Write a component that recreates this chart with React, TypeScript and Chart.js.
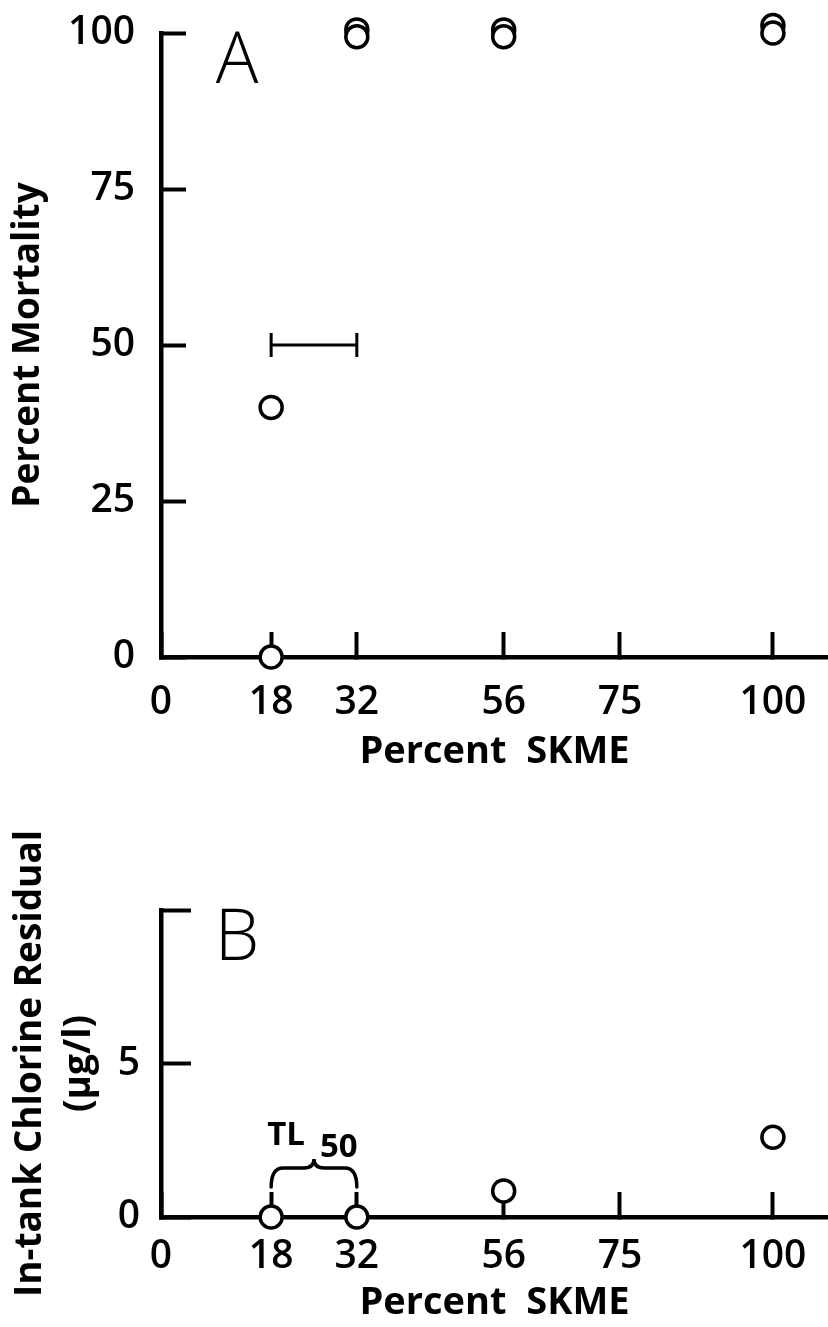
import React, { useEffect, useRef } from 'react';
import { Chart, registerables } from 'chart.js';

Chart.register(...registerables);

// ---------- data ----------
const xTickValues = [0, 18, 32, 56, 75, 100];
const mortalityTickValues = [0, 25, 50, 75, 100];
const chlorineTickValues = [0, 5, 10];

const mortalityX = [18, 32, 56, 100];
const mortalityFront = [0, 99.4, 99.4, 100];
const mortalityBack = [40, 100.5, 100.5, 101.2];
const tl50Range = [18, 32];
const tl50Level = 50;

const chlorineX = [18, 32, 56, 100];
const chlorineY = [0, 0, 0.85, 2.6];

// ---------- style ----------
const FONT = '"Open Sans", "Liberation Sans", Arial, sans-serif';
const W = 828;
const H_A = 820;
const H_B = 507;
const AXIS_X = 161;

const decorPlugin = {
  id: 'decor',
  afterDraw(chart: any, _args: any, opts: any) {
    const { ctx, chartArea } = chart;
    const xs = chart.scales.x;
    ctx.save();
    ctx.fillStyle = '#000';
    ctx.strokeStyle = '#000';
    ctx.font = `300 71px ${FONT}`;
    ctx.textAlign = 'center';
    ctx.textBaseline = 'alphabetic';
    ctx.fillText(opts.letter, chartArea.left + 76, chartArea.top + 50);
    if (opts.brace) {
      const x1 = xs.getPixelForValue(opts.brace[0]);
      const x2 = xs.getPixelForValue(opts.brace[1]);
      const xm = (x1 + x2) / 2;
      const b = chartArea.bottom;
      const yEnd = b - 30;
      const yFlat = b - 49;
      const yPeak = b - 58;
      ctx.lineWidth = 3.5;
      ctx.lineCap = 'round';
      ctx.beginPath();
      ctx.moveTo(x1, yEnd);
      ctx.quadraticCurveTo(x1, yFlat, x1 + 12, yFlat);
      ctx.lineTo(xm - 10, yFlat);
      ctx.quadraticCurveTo(xm, yFlat, xm, yPeak);
      ctx.quadraticCurveTo(xm, yFlat, xm + 10, yFlat);
      ctx.lineTo(x2 - 12, yFlat);
      ctx.quadraticCurveTo(x2, yFlat, x2, yEnd);
      ctx.stroke();
      ctx.font = `bold 33px ${FONT}`;
      ctx.textAlign = 'left';
      ctx.fillText('TL', x1 - 4, b - 72);
      ctx.fillText('50', xm + 6, b - 60);
    }
    ctx.restore();
  },
};

const zeroPadding = (s: any) => {
  s.paddingTop = 0;
  s.paddingBottom = 0;
  s.paddingLeft = 0;
  s.paddingRight = 0;
};

function makeScales(opts: {
  height: number;
  bottomY: number;
  yMax: number;
  yTicks: number[];
  yTickLen: number;
  yLabelPad: number;
  yTitle: string | string[];
  yTitleLineHeight: number;
  yTitlePadTop: number;
  xLabelPad: number;
  xTitlePadBottom: number;
  hideTop?: boolean;
}) {
  return {
    x: {
      type: 'linear',
      min: 0,
      max: 109,
      afterBuildTicks: (s: any) => {
        s.ticks = xTickValues.map((v) => ({ value: v }));
      },
      afterFit: (s: any) => {
        s.height = opts.height - opts.bottomY;
        zeroPadding(s);
      },
      border: { display: true, color: '#000', width: 4.5 },
      grid: {
        display: true,
        drawOnChartArea: false,
        drawTicks: true,
        tickLength: -25,
        tickWidth: 4,
        tickColor: '#000',
        color: '#000',
      },
      ticks: {
        autoSkip: false,
        maxRotation: 0,
        color: '#000',
        padding: opts.xLabelPad,
        font: { family: FONT, size: 39, weight: '600' },
      },
      title: {
        display: true,
        text: 'Percent  SKME',
        color: '#000',
        font: { family: FONT, size: 38, weight: 'bold' },
        padding: { top: 0, bottom: opts.xTitlePadBottom },
      },
    },
    y: {
      type: 'linear',
      min: 0,
      max: opts.yMax,
      afterBuildTicks: (s: any) => {
        s.ticks = opts.yTicks.map((v) => ({ value: v }));
      },
      afterFit: (s: any) => {
        s.width = AXIS_X;
        zeroPadding(s);
      },
      border: { display: true, color: '#000', width: 4.5 },
      grid: {
        display: true,
        drawOnChartArea: false,
        drawTicks: true,
        tickLength: -opts.yTickLen,
        tickWidth: 4,
        tickColor: '#000',
        color: '#000',
      },
      ticks: {
        autoSkip: false,
        color: '#000',
        padding: opts.yLabelPad,
        font: { family: FONT, size: 39, weight: '600' },
        callback: (v: any) => (opts.hideTop && v === opts.yMax ? '' : String(v)),
      },
      title: {
        display: true,
        text: opts.yTitle,
        color: '#000',
        font: { family: FONT, size: 37, weight: 'bold', lineHeight: opts.yTitleLineHeight },
        padding: { top: opts.yTitlePadTop, bottom: 0 },
      },
    },
  };
}

const circle = {
  type: 'scatter',
  pointStyle: 'circle',
  pointRadius: 11,
  pointBorderWidth: 3.5,
  pointBorderColor: '#000',
  pointBackgroundColor: '#fff',
  pointHoverRadius: 11,
  showLine: false,
  clip: false,
};

function PanelA() {
  const ref = useRef<HTMLCanvasElement>(null);
  useEffect(() => {
    if (!ref.current) return;
    const chart = new Chart(ref.current, {
      type: 'scatter',
      data: {
        datasets: [
          {
            ...circle,
            label: 'replicate 1',
            data: mortalityX.map((x, i) => ({ x, y: mortalityFront[i] })),
          },
          {
            ...circle,
            label: 'replicate 2',
            data: mortalityX.map((x, i) => ({ x, y: mortalityBack[i] })),
          },
          {
            type: 'line',
            label: 'TL50 range',
            data: tl50Range.map((x) => ({ x, y: tl50Level })),
            borderColor: '#000',
            borderWidth: 3,
            pointStyle: 'line',
            rotation: 90,
            pointRadius: 12,
            pointBorderWidth: 3,
            pointBorderColor: '#000',
            clip: false,
          },
        ],
      } as any,
      options: {
        responsive: false,
        animation: false,
        layout: { autoPadding: false, padding: { top: 33, left: 0, right: 0, bottom: 0 } },
        plugins: {
          legend: { display: false },
          tooltip: { enabled: false },
          decor: { letter: 'A' },
        } as any,
        scales: makeScales({
          height: H_A,
          bottomY: 657,
          yMax: 100,
          yTicks: mortalityTickValues,
          yTickLen: 25,
          yLabelPad: 51,
          yTitle: 'Percent Mortality',
          yTitleLineHeight: 1.2,
          yTitlePadTop: 6,
          xLabelPad: 47.6,
          xTitlePadBottom: 45.2,
        }) as any,
      },
      plugins: [decorPlugin],
    });
    return () => chart.destroy();
  }, []);
  return (
    <canvas
      ref={ref}
      width={W}
      height={H_A}
      style={{ position: 'absolute', left: 0, top: 0, width: W, height: H_A }}
    />
  );
}

function PanelB() {
  const ref = useRef<HTMLCanvasElement>(null);
  useEffect(() => {
    if (!ref.current) return;
    const chart = new Chart(ref.current, {
      type: 'scatter',
      data: {
        datasets: [
          {
            ...circle,
            label: 'chlorine residual',
            data: chlorineX.map((x, i) => ({ x, y: chlorineY[i] })),
          },
        ],
      } as any,
      options: {
        responsive: false,
        animation: false,
        layout: { autoPadding: false, padding: { top: 90, left: 0, right: 0, bottom: 0 } },
        plugins: {
          legend: { display: false },
          tooltip: { enabled: false },
          decor: { letter: 'B', brace: tl50Range },
        } as any,
        scales: makeScales({
          height: H_B,
          bottomY: 397,
          yMax: 10,
          yTicks: chlorineTickValues,
          yTickLen: 30,
          yLabelPad: 51,
          yTitle: ['In-tank Chlorine Residual', '(\u00b5g/l)'],
          yTitleLineHeight: 1.35,
          yTitlePadTop: 5,
          xLabelPad: 41.6,
          xTitlePadBottom: 1.2,
          hideTop: true,
        }) as any,
      },
      plugins: [decorPlugin],
    });
    return () => chart.destroy();
  }, []);
  return (
    <canvas
      ref={ref}
      width={W}
      height={H_B}
      style={{ position: 'absolute', left: 0, top: H_A, width: W, height: H_B }}
    />
  );
}

export default function App() {
  return (
    <div
      style={{
        position: 'absolute',
        left: 0,
        top: 0,
        width: W,
        height: H_A + H_B,
        background: '#fff',
        overflow: 'hidden',
      }}
    >
      <PanelA />
      <PanelB />
    </div>
  );
}
